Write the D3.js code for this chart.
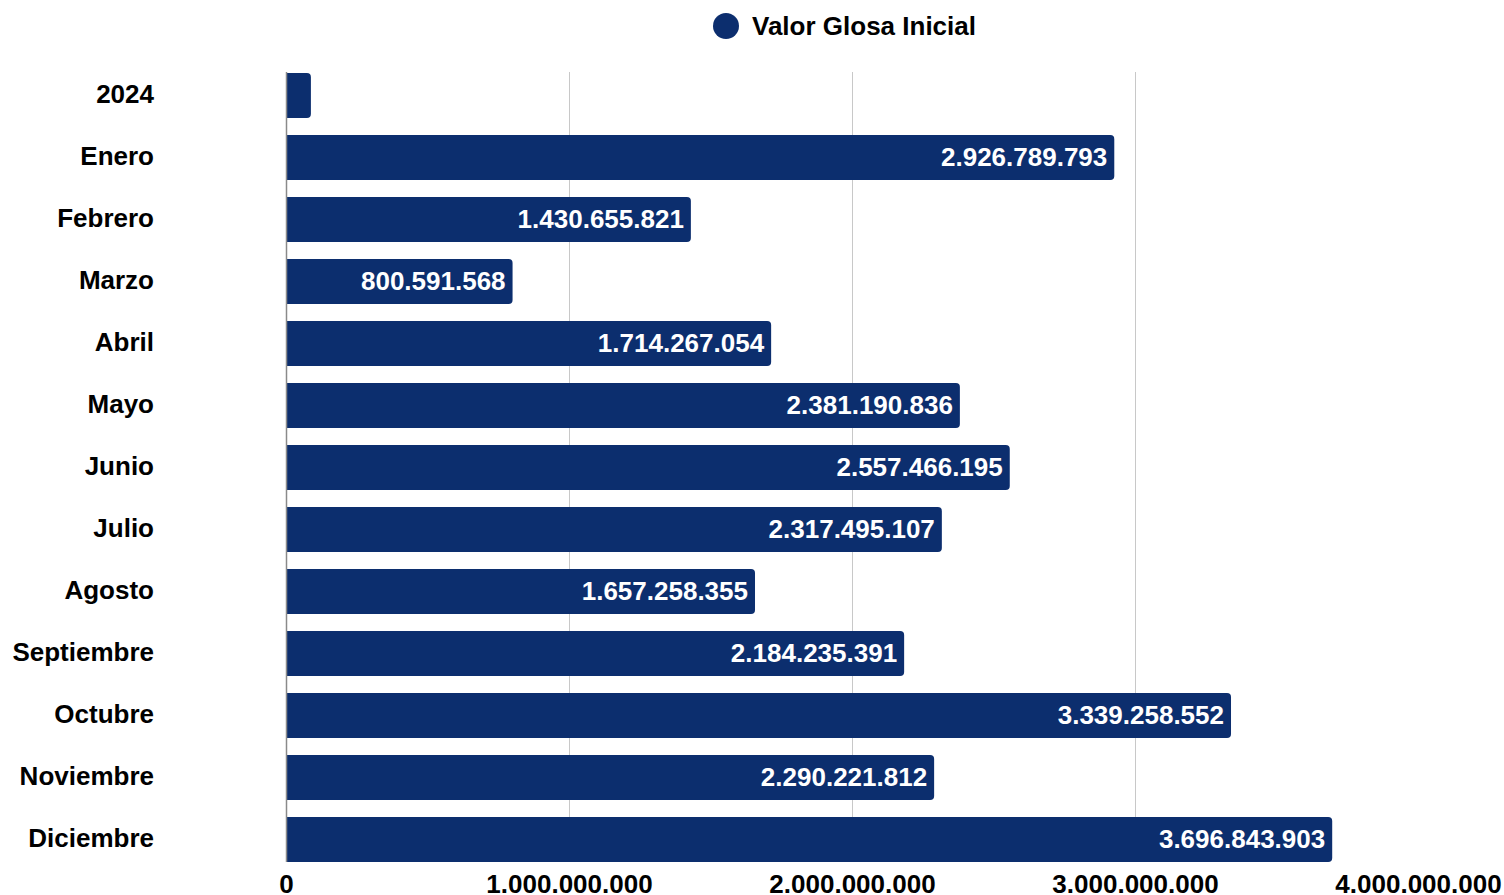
<!DOCTYPE html>
<html>
<head>
<meta charset="utf-8">
<script src="https://cdn.jsdelivr.net/npm/d3@7"></script>
<style>
  html, body { margin: 0; padding: 0; background: #fff; }
  svg { display: block; font-family: "Liberation Sans", Arial, sans-serif; }
</style>
</head>
<body>
<svg id="chart" width="1504" height="895"></svg>
<script>
// Categories (rows, top to bottom)
const categories = ["2024", "Enero", "Febrero", "Marzo", "Abril", "Mayo", "Junio",
  "Julio", "Agosto", "Septiembre", "Octubre", "Noviembre", "Diciembre"];
// Valor Glosa Inicial per row
const values = [88000000, 2926789793, 1430655821, 800591568, 1714267054, 2381190836,
  2557466195, 2317495107, 1657258355, 2184235391, 3339258552, 2290221812, 3696843903];
// Rows whose value label is drawn (the 2024 bar is too short for one)
const showLabel = [false, true, true, true, true, true, true, true, true, true, true, true, true];
const xTicks = [0, 1000000000, 2000000000, 3000000000, 4000000000];
const seriesName = "Valor Glosa Inicial";

const barColor = "#0c2e6e";
const fmt = v => d3.format(",")(v).replace(/,/g, ".");

const svg = d3.select("#chart");
const x = d3.scaleLinear().domain([0, 4000000000]).range([286, 1418]);
const y = d3.scaleBand().domain(categories).range([73, 862]).paddingInner(0.274).paddingOuter(0);

// Vertical gridlines
svg.append("g").selectAll("line").data(xTicks.slice(1, -1)).join("line")
  .attr("x1", d => x(d) + 0.5).attr("x2", d => x(d) + 0.5)
  .attr("y1", 72).attr("y2", 862)
  .attr("stroke", "#c8c8c8").attr("stroke-width", 1);

// Bars with rounded right ends
const r = 4;
svg.append("g").selectAll("path").data(categories).join("path")
  .attr("fill", barColor)
  .attr("d", (c, i) => {
    const x0 = x(0), x1 = x(values[i]), y0 = y(c), h = y.bandwidth();
    return `M${x0},${y0} H${x1 - r} Q${x1},${y0} ${x1},${y0 + r} V${y0 + h - r} Q${x1},${y0 + h} ${x1 - r},${y0 + h} H${x0} Z`;
  });

// Left axis line
svg.append("line")
  .attr("x1", 286.5).attr("x2", 286.5).attr("y1", 72).attr("y2", 862)
  .attr("stroke", "#8a8a8a").attr("stroke-width", 1.5);

// Value labels inside bars
svg.append("g").selectAll("text").data(categories.filter((c, i) => showLabel[i])).join("text")
  .attr("x", c => x(values[categories.indexOf(c)]) - 7)
  .attr("y", c => y(c) + y.bandwidth() / 2 + 8.5)
  .attr("text-anchor", "end")
  .attr("fill", "#ffffff")
  .attr("font-size", 26).attr("font-weight", "bold")
  .text(c => fmt(values[categories.indexOf(c)]));

// Category labels
svg.append("g").selectAll("text").data(categories).join("text")
  .attr("x", 154)
  .attr("y", c => y(c) + y.bandwidth() / 2 + 7.5)
  .attr("text-anchor", "end")
  .attr("fill", "#000000")
  .attr("font-size", 26).attr("font-weight", "bold")
  .text(c => c);

// X axis tick labels
const xAxis = d3.axisBottom(x).tickValues(xTicks).tickSize(0).tickPadding(0).tickFormat(fmt);
const gx = svg.append("g").attr("transform", "translate(0,874)").call(xAxis);
gx.select(".domain").remove();
gx.selectAll("text")
  .attr("y", 19).attr("dy", 0)
  .attr("fill", "#000000")
  .attr("font-size", 26).attr("font-weight", "bold")
  .attr("font-family", "\"Liberation Sans\", Arial, sans-serif");

// Legend
const legend = svg.append("g");
legend.append("circle").attr("cx", 726).attr("cy", 26).attr("r", 13).attr("fill", barColor);
legend.append("text").attr("x", 752).attr("y", 35)
  .attr("fill", "#000000").attr("font-size", 26).attr("font-weight", "bold")
  .text(seriesName);
</script>
</body>
</html>
